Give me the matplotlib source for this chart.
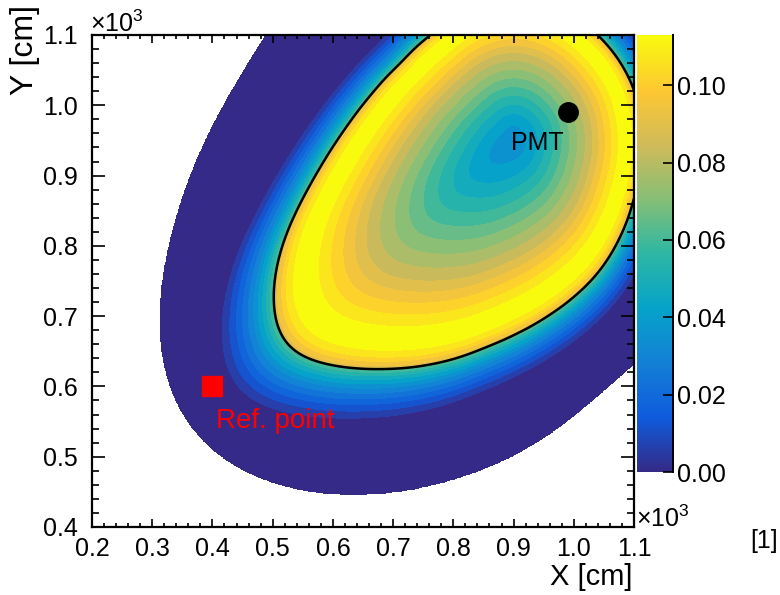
import numpy as np
import matplotlib.pyplot as plt
from matplotlib.colors import LinearSegmentedColormap
from matplotlib.ticker import MultipleLocator, FormatStrFormatter

plt.rcParams['font.family'] = ['Liberation Sans', 'DejaVu Sans']
plt.rcParams['mathtext.fontset'] = 'custom'
plt.rcParams['mathtext.rm'] = 'Liberation Sans'

# all positions in units of 10^3 cm
pmt = (0.99, 0.99)
ref_point = (0.40, 0.60)
dip = (0.90, 0.95)          # weakest spot, centre of the rings

# black contour: edge of the bright zone
edge_x = [0.764, 0.712, 0.665, 0.625, 0.590, 0.560, 0.535, 0.515, 0.503, 0.499,
          0.507, 0.525, 0.584, 0.683, 0.766, 0.850, 0.905, 0.955, 1.000, 1.040,
          1.075, 1.100, 1.100, 1.039]
edge_y = [1.100, 1.058, 1.015, 0.970, 0.925, 0.880, 0.840, 0.800, 0.760, 0.715,
          0.670, 0.648, 0.633, 0.626, 0.633, 0.656, 0.676, 0.700, 0.728, 0.762,
          0.810, 0.870, 1.022, 1.100]

# outer limit of the mapped area
limit_x = [0.500, 0.446, 0.384, 0.343, 0.316, 0.303, 0.306, 0.318, 0.349, 0.391,
           0.467, 0.545, 0.629, 0.712, 0.795, 0.878, 0.961, 1.022, 1.100]
limit_y = [1.100, 1.032, 0.936, 0.841, 0.747, 0.676, 0.625, 0.581, 0.534, 0.499,
           0.471, 0.452, 0.446, 0.453, 0.470, 0.495, 0.534, 0.581, 0.638]

# value vs. scaled distance from the dip (1 = black contour)
rho_in = [0.0, 0.15, 0.30, 0.45, 0.60, 0.72, 0.82, 0.88, 0.94, 1.0]
val_in = [0.034, 0.042, 0.055, 0.069, 0.083, 0.097, 0.108, 0.113, 0.104, 0.086]
rho_out = [1.0, 1.04, 1.09, 1.15, 1.20, 1.25]
val_out = [0.062, 0.047, 0.032, 0.018, 0.008, 0.0]

z_max = 0.113
n_levels = 20
cbar_ticks = [0.00, 0.02, 0.04, 0.06, 0.08, 0.10]

# ROOT "bird" palette
bird_pos = [0.0, 0.125, 0.25, 0.375, 0.5, 0.625, 0.75, 0.875, 1.0]
bird_r = [0.2082, 0.0592, 0.0780, 0.0232, 0.1802, 0.5301, 0.8186, 0.9956, 0.9764]
bird_g = [0.1664, 0.3599, 0.5041, 0.6419, 0.7178, 0.7492, 0.7328, 0.7862, 0.9832]
bird_b = [0.5293, 0.8684, 0.8385, 0.7914, 0.6425, 0.4662, 0.3499, 0.1968, 0.0539]
bird = LinearSegmentedColormap.from_list(
    'bird', list(zip(bird_pos, zip(bird_r, bird_g, bird_b))))


def polar_outline(px, py, smooth):
    # radius of a closed outline seen from the dip, as a function of angle
    px = np.asarray(px)
    py = np.asarray(py)
    ang = np.degrees(np.arctan2(py - dip[1], px - dip[0])) % 360
    rad = np.hypot(px - dip[0], py - dip[1])
    o = np.argsort(ang)
    grid = np.arange(0, 360, 0.5)
    r = np.interp(grid, ang[o], rad[o], period=360)
    w = int(3 * smooth / 0.5)
    k = np.exp(-0.5 * (np.arange(-w, w + 1) * 0.5 / smooth) ** 2)
    k /= k.sum()
    r = np.convolve(np.r_[r[-w:], r, r[:w]], k, mode='valid')
    return grid, r


xs = np.linspace(0.2, 1.1, 901)
ys = np.linspace(0.4, 1.1, 701)
X, Y = np.meshgrid(xs, ys)
ang_xy = np.degrees(np.arctan2(Y - dip[1], X - dip[0])) % 360
dist_xy = np.hypot(X - dip[0], Y - dip[1])

g, r_edge = polar_outline(edge_x, edge_y, 4.0)
rho = dist_xy / np.interp(ang_xy, g, r_edge, period=360)
g, r_limit = polar_outline(limit_x, limit_y, 8.0)
outside = dist_xy > np.interp(ang_xy, g, r_limit, period=360)

Z = np.where(rho <= 1.0, np.interp(rho, rho_in, val_in),
             np.interp(rho, rho_out, val_out))
Z = np.ma.masked_where(outside, Z)

fig = plt.figure(figsize=(7.8, 5.95), dpi=100)
ax = fig.add_axes([92 / 780, 68 / 595, 542 / 780, 492 / 595])
cax = fig.add_axes([637 / 780, 123 / 595, 36 / 780, 437 / 595])

levels = np.linspace(0, z_max, n_levels + 1)
ax.contourf(X, Y, Z, levels=levels, colors=bird(np.linspace(0, 1, n_levels)))
ax.contour(X, Y, rho, levels=[1.0], colors='k', linewidths=1.8)

ax.plot(*pmt, 'o', color='k', ms=14)
ax.text(0.939, 0.946, 'PMT', ha='center', va='center', fontsize=18)
ax.plot(*ref_point, 's', color='red', ms=14)
ax.text(0.406, 0.551, 'Ref. point', color='red', ha='left', va='center',
        fontsize=20)

ax.set_xlim(0.2, 1.1)
ax.set_ylim(0.4, 1.1)
ax.xaxis.set_major_locator(MultipleLocator(0.1))
ax.xaxis.set_minor_locator(MultipleLocator(0.02))
ax.yaxis.set_major_locator(MultipleLocator(0.1))
ax.yaxis.set_minor_locator(MultipleLocator(0.02))
ax.xaxis.set_major_formatter(FormatStrFormatter('%.1f'))
ax.yaxis.set_major_formatter(FormatStrFormatter('%.1f'))
ax.tick_params(axis='both', which='both', direction='in', top=True, right=True,
               width=1.2, labelsize=18)
ax.tick_params(axis='x', which='major', length=6, pad=7)
ax.tick_params(axis='x', which='minor', length=3)
ax.tick_params(axis='y', which='major', length=9.5, pad=10)
ax.tick_params(axis='y', which='minor', length=5)
for s in ax.spines.values():
    s.set_linewidth(1.6)

fig.text(633 / 780, 1 - 577 / 595, 'X [cm]', ha='right', va='center', fontsize=21)
fig.text(25 / 780, 1 - 5 / 595, 'Y [cm]', ha='center', va='top', rotation=90,
         fontsize=23)
fig.text(90 / 780, 1 - 32 / 595, '×10$^{\\mathregular{3}}$', ha='left',
         va='baseline', fontsize=18)
fig.text(636 / 780, 1 - 527 / 595, '×10$^{\\mathregular{3}}$', ha='left',
         va='baseline', fontsize=18)
fig.text(778 / 780, 1 - 541 / 595, '[1]', ha='right', va='center', fontsize=18)

# colour scale
cax.imshow(np.linspace(0, 1, 512)[:, None], aspect='auto', cmap=bird,
           origin='lower', extent=[0, 1, 0, z_max])
cax.set_xlim(0, 1)
cax.set_ylim(0, z_max)
cax.set_xticks([])
cax.set_yticks(cbar_ticks)
cax.yaxis.set_major_formatter(FormatStrFormatter('%.2f'))
cax.yaxis.tick_right()
cax.tick_params(axis='y', direction='in', length=7, width=1.2, pad=3,
                labelsize=18)
for side in ['top', 'left', 'bottom']:
    cax.spines[side].set_visible(False)
cax.spines['right'].set_linewidth(1.4)

fig.savefig('out.png', dpi=100)
